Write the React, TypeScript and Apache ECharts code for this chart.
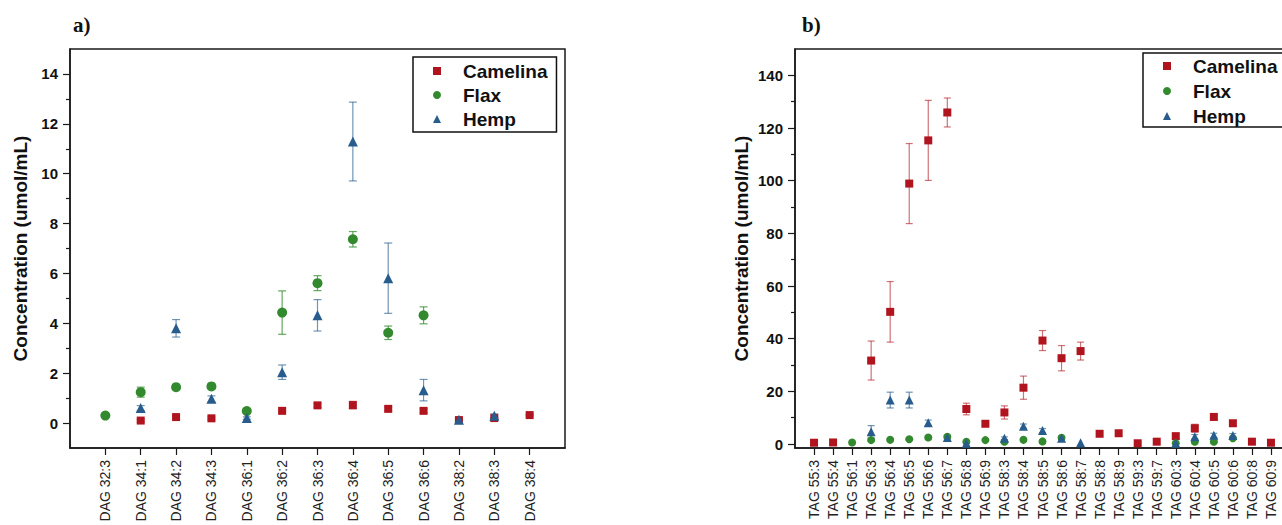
import React, { useEffect, useRef } from "react";
import * as echarts from "echarts";

const dagCategories = ["DAG 32:3", "DAG 34:1", "DAG 34:2", "DAG 34:3", "DAG 36:1", "DAG 36:2", "DAG 36:3", "DAG 36:4", "DAG 36:5", "DAG 36:6", "DAG 38:2", "DAG 38:3", "DAG 38:4"];
const dagCamelina = [null, 0.1, 0.24, 0.19, null, 0.49, 0.71, 0.72, 0.57, 0.49, 0.12, 0.2, 0.32];
const dagCamelinaErr = [0, 0.05, 0.05, 0.05, 0, 0.05, 0.08, 0.15, 0.08, 0.08, 0.03, 0.03, 0.03];
const dagFlax = [0.3, 1.24, 1.44, 1.47, 0.48, 4.43, 5.61, 7.37, 3.62, 4.32, null, null, null];
const dagFlaxErr = [0.05, 0.2, 0.1, 0.1, 0.08, 0.87, 0.3, 0.31, 0.27, 0.34, 0, 0, 0];
const dagHemp = [null, 0.6, 3.8, 0.97, 0.2, 2.04, 4.32, 11.29, 5.81, 1.32, 0.13, 0.29, null];
const dagHempErr = [0, 0.1, 0.35, 0.12, 0.05, 0.29, 0.63, 1.58, 1.41, 0.43, 0.05, 0.08, 0];

const tagCategories = ["TAG 55:3", "TAG 55:4", "TAG 56:1", "TAG 56:3", "TAG 56:4", "TAG 56:5", "TAG 56:6", "TAG 56:7", "TAG 56:8", "TAG 56:9", "TAG 58:3", "TAG 58:4", "TAG 58:5", "TAG 58:6", "TAG 58:7", "TAG 58:8", "TAG 58:9", "TAG 59:3", "TAG 59:7", "TAG 60:3", "TAG 60:4", "TAG 60:5", "TAG 60:6", "TAG 60:8", "TAG 60:9"];
const tagCamelina = [0.5, 0.6, null, 31.7, 50.2, 98.9, 115.3, 125.9, 13.3, 7.7, 12.0, 21.4, 39.3, 32.6, 35.3, 3.9, 4.1, 0.3, 0.9, 3.0, 6.0, 10.3, 7.9, 0.9, 0.5];
const tagCamelinaErr = [0, 0, 0, 7.4, 11.5, 15.2, 15.2, 5.5, 2.2, 0.8, 2.5, 4.4, 3.8, 4.8, 3.4, 0.5, 0.5, 0, 0, 1.0, 1.5, 1.2, 1.0, 0, 0];
const tagFlax = [null, null, 0.6, 1.5, 1.6, 1.8, 2.5, 2.8, 0.9, 1.5, 0.9, 1.6, 1.0, 2.4, null, null, null, null, null, 0.3, 0.9, 0.9, 2.2, null, null];
const tagFlaxErr = [0, 0, 0, 0.4, 0.4, 0.4, 0.5, 0.5, 0.3, 0.3, 0.3, 0.4, 0.3, 0.5, 0, 0, 0, 0, 0, 0, 0.3, 0.3, 0.4, 0, 0];
const tagHemp = [null, null, null, 4.7, 16.7, 16.7, 8.1, 2.5, 0.3, null, 2.2, 6.8, 5.1, 2.2, 0.5, null, null, null, null, 0.3, 2.8, 3.3, 3.2, null, null];
const tagHempErr = [0, 0, 0, 2.3, 3.0, 3.0, 1.0, 0.5, 0, 0, 0.5, 0.8, 0.8, 0.5, 0, 0, 0, 0, 0, 0, 0.8, 0.8, 0.8, 0, 0];

const dagYTicks = [0, 2, 4, 6, 8, 10, 12, 14];
const dagYMinor = [1, 3, 5, 7, 9, 11, 13];
const tagYTicks = [0, 20, 40, 60, 80, 100, 120, 140];
const tagYMinor = [10, 30, 50, 70, 90, 110, 130];

const RED = "#B0141E";
const GREEN = "#338A2E";
const BLUE = "#275C8C";
const RED_ERR = "rgba(176,20,30,0.6)";
const GREEN_ERR = "rgba(51,138,46,0.75)";
const BLUE_ERR = "rgba(39,92,140,0.65)";
const SANS = '"Liberation Sans", Arial, sans-serif';
const AXIS = "#1a1a1a";

const GRID_A = { left: 70, top: 49, width: 495, height: 399 };
const GRID_B = { left: 795, top: 49, width: 495, height: 399 };

function points(vals: (number | null)[]) {
  const out: number[][] = [];
  vals.forEach((v, i) => {
    if (v !== null && v !== undefined) out.push([i, v]);
  });
  return out;
}

function errPoints(vals: (number | null)[], errs: number[]) {
  const out: number[][] = [];
  vals.forEach((v, i) => {
    if (v !== null && v !== undefined && errs[i] > 0) out.push([i, v - errs[i], v + errs[i]]);
  });
  return out;
}

function errSeries(name: string, vals: (number | null)[], errs: number[], color: string, axis: number, cap: number) {
  return {
    type: "custom",
    name: name + " err",
    xAxisIndex: axis,
    yAxisIndex: axis,
    z: 1,
    silent: true,
    encode: { x: 0, y: [1, 2] },
    data: errPoints(vals, errs),
    renderItem: (params: any, api: any) => {
      const x = api.value(0);
      const lo = api.coord([x, api.value(1)]);
      const hi = api.coord([x, api.value(2)]);
      const style = { stroke: color, lineWidth: 1.2 };
      return {
        type: "group",
        children: [
          { type: "line", shape: { x1: lo[0], y1: lo[1], x2: hi[0], y2: hi[1] }, style },
          { type: "line", shape: { x1: lo[0] - cap, y1: lo[1], x2: lo[0] + cap, y2: lo[1] }, style },
          { type: "line", shape: { x1: hi[0] - cap, y1: hi[1], x2: hi[0] + cap, y2: hi[1] }, style },
        ],
      };
    },
  };
}

function scatter(name: string, vals: (number | null)[], color: string, symbol: string, size: number, axis: number) {
  return {
    type: "scatter",
    name,
    xAxisIndex: axis,
    yAxisIndex: axis,
    symbol,
    symbolSize: size,
    z: 3,
    itemStyle: { color, opacity: 1 },
    data: points(vals),
  };
}

function xAxis(gridIndex: number, cats: string[]) {
  const idx = cats.map((_, i) => i);
  return {
    type: "value",
    gridIndex,
    min: -1,
    max: cats.length,
    axisLine: { show: true, onZero: false, lineStyle: { color: AXIS, width: 1.5 } },
    axisTick: { show: true, length: 7, customValues: idx, lineStyle: { color: AXIS, width: 1.2 } },
    axisLabel: {
      customValues: idx,
      rotate: 90,
      margin: 12,
      fontSize: 14,
      fontFamily: SANS,
      color: "#222",
      formatter: (v: number) => cats[Math.round(v)] ?? "",
    },
    splitLine: { show: false },
  };
}

function hiddenX(gridIndex: number, n: number) {
  return { type: "value", gridIndex, min: -1, max: n, show: false };
}

function yMajor(gridIndex: number, min: number, max: number, ticks: number[], nameGap: number) {
  return {
    type: "value",
    gridIndex,
    min,
    max,
    name: "Concentration (umol/mL)",
    nameLocation: "middle",
    nameGap,
    nameTextStyle: { fontSize: 19, fontWeight: "bold", fontFamily: SANS, color: "#111" },
    axisLine: { show: true, onZero: false, lineStyle: { color: AXIS, width: 1.5 } },
    axisTick: { show: true, length: 7, customValues: ticks, lineStyle: { color: AXIS, width: 1.2 } },
    axisLabel: { customValues: ticks, margin: 12, fontSize: 15, fontWeight: "bold", fontFamily: SANS, color: "#111" },
    splitLine: { show: false },
  };
}

function yMinor(gridIndex: number, min: number, max: number, minor: number[]) {
  return {
    type: "value",
    gridIndex,
    min,
    max,
    position: "left",
    axisLine: { show: false, onZero: false },
    axisTick: { show: true, length: 4, customValues: minor, lineStyle: { color: AXIS, width: 1.2 } },
    axisLabel: { show: false },
    splitLine: { show: false },
  };
}

function legend(left: number, top: number, itemGap: number, pad: number[]) {
  return {
    left,
    top,
    orient: "vertical",
    padding: pad,
    itemWidth: 8,
    itemHeight: 8,
    itemGap,
    borderColor: "#111",
    borderWidth: 1.5,
    backgroundColor: "#fff",
    selectedMode: false,
    data: ["Camelina", "Flax", "Hemp"],
    textStyle: { fontSize: 19, fontWeight: "bold", fontFamily: SANS, color: "#111", lineHeight: 20, padding: [0, 0, 0, 17] },
  };
}

export default function App() {
  const ref = useRef<HTMLDivElement>(null);
  useEffect(() => {
    if (!ref.current) return;
    const chart = echarts.init(ref.current, undefined, { renderer: "svg" });
    chart.setOption({
      animation: false,
      backgroundColor: "#fff",
      grid: [
        { ...GRID_A, show: true, borderColor: AXIS, borderWidth: 1.5, backgroundColor: "transparent" },
        { ...GRID_B, show: true, borderColor: AXIS, borderWidth: 1.5, backgroundColor: "transparent" },
        { ...GRID_A, show: false },
        { ...GRID_B, show: false },
      ],
      xAxis: [xAxis(0, dagCategories), xAxis(1, tagCategories), hiddenX(2, dagCategories.length), hiddenX(3, tagCategories.length)],
      yAxis: [
        yMajor(0, -1, 15, dagYTicks, 40),
        yMajor(1, -1.5, 150, tagYTicks, 44),
        yMinor(2, -1, 15, dagYMinor),
        yMinor(3, -1.5, 150, tagYMinor),
      ],
      legend: [legend(413, 57, 4, [4, 9, 3, 20]), legend(1143, 53, 5, [3, 9, 1, 20])],
      graphic: [
        { type: "text", left: 73, top: 14, style: { text: "a)", font: 'bold 21px "Liberation Serif", serif', fill: "#111" } },
        { type: "text", left: 802, top: 14, style: { text: "b)", font: 'bold 21px "Liberation Serif", serif', fill: "#111" } },
      ],
      series: [
        errSeries("Camelina", dagCamelina, dagCamelinaErr, RED_ERR, 0, 4),
        errSeries("Flax", dagFlax, dagFlaxErr, GREEN_ERR, 0, 4),
        errSeries("Hemp", dagHemp, dagHempErr, BLUE_ERR, 0, 4),
        scatter("Camelina", dagCamelina, RED, "rect", 8, 0),
        scatter("Flax", dagFlax, GREEN, "circle", 10, 0),
        scatter("Hemp", dagHemp, BLUE, "triangle", 10, 0),
        errSeries("Camelina", tagCamelina, tagCamelinaErr, RED_ERR, 1, 3.5),
        errSeries("Flax", tagFlax, tagFlaxErr, GREEN_ERR, 1, 3.5),
        errSeries("Hemp", tagHemp, tagHempErr, BLUE_ERR, 1, 3.5),
        scatter("Camelina", tagCamelina, RED, "rect", 8, 1),
        scatter("Flax", tagFlax, GREEN, "circle", 8, 1),
        scatter("Hemp", tagHemp, BLUE, "triangle", 9, 1),
      ],
    });
    return () => chart.dispose();
  }, []);
  return (
    <div style={{ position: "absolute", left: 0, top: 0, width: 1282, height: 525, overflow: "hidden", background: "#fff" }}>
      <div ref={ref} style={{ width: 1300, height: 525 }} />
    </div>
  );
}
